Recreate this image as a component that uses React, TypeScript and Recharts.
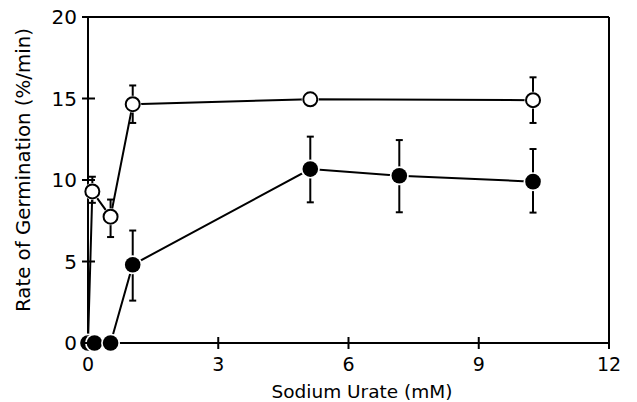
import React from "react";
import {
  ComposedChart,
  Line,
  XAxis,
  YAxis,
  ErrorBar,
  ReferenceLine,
} from "recharts";

// open circles
const openX = [0, 0.1, 0.52, 1.03, 5.12, 10.25];
const openY = [0, 9.3, 7.75, 14.65, 14.95, 14.9];
const openErrLow = [0, 0.7, 1.25, 1.15, 0, 1.4];
const openErrHigh = [0, 0.9, 1.05, 1.15, 0, 1.4];

// filled circles
const filledX = [0, 0.15, 0.52, 1.03, 5.12, 7.17, 10.25];
const filledY = [0, 0, 0, 4.8, 10.67, 10.26, 9.9];
const filledErrLow = [0, 0, 0, 2.2, 2.04, 2.24, 1.9];
const filledErrHigh = [0, 0, 0, 2.1, 1.99, 2.19, 2.0];

const xTicks = [0, 3, 6, 9, 12];
const yTicks = [0, 5, 10, 15, 20];

const FONT = "'DejaVu Sans', sans-serif";

const openData = openX.map((x, i) => ({
  x,
  y: openY[i],
  err: [openErrLow[i], openErrHigh[i]],
}));
const filledData = filledX.map((x, i) => ({
  x,
  y: filledY[i],
  err: [filledErrLow[i], filledErrHigh[i]],
}));

const XTick = (props: any) => {
  const { x, y, payload } = props;
  return (
    <g>
      {payload.value !== 0 && (
        <line x1={x} x2={x} y1={y - 6} y2={y + 6} stroke="#000" strokeWidth={2} />
      )}
      <text x={x} y={y + 28} textAnchor="middle" fontSize={19} fontFamily={FONT} fill="#000">
        {payload.value}
      </text>
    </g>
  );
};

const YTick = (props: any) => {
  const { x, y, payload } = props;
  return (
    <g>
      <line x1={x - 6} x2={x + 7} y1={y} y2={y} stroke="#000" strokeWidth={2} />
      <text x={x - 11} y={y + 7} textAnchor="end" fontSize={20} fontFamily={FONT} fill="#000">
        {payload.value}
      </text>
    </g>
  );
};

const OpenDot = (p: any) => {
  if (p.payload.x === 0) return <g key={p.index} />;
  return (
    <g key={p.index}>
      <circle cx={p.cx} cy={p.cy} r={8.5} fill="#fff" />
      <circle cx={p.cx} cy={p.cy} r={7} fill="#fff" stroke="#000" strokeWidth={2} />
    </g>
  );
};

const FilledDot = (p: any) => (
  <g key={p.index}>
    <circle cx={p.cx} cy={p.cy} r={9.5} fill="#fff" />
    <circle cx={p.cx} cy={p.cy} r={7.8} fill="#000" />
  </g>
);

export default function App() {
  return (
    <div style={{ position: "absolute", left: 0, top: 0, background: "#fff" }}>
      <ComposedChart
        width={637}
        height={402}
        margin={{ top: 17, right: 28, left: 0, bottom: 0 }}
      >
        <XAxis
          type="number"
          dataKey="x"
          domain={[0, 12]}
          ticks={xTicks}
          height={59}
          tickSize={0}
          tickMargin={0}
          tickLine={false}
          axisLine={{ stroke: "#000", strokeWidth: 2 }}
          tick={<XTick />}
        />
        <YAxis
          type="number"
          domain={[0, 20]}
          ticks={yTicks}
          width={88}
          tickSize={0}
          tickMargin={0}
          tickLine={false}
          axisLine={{ stroke: "#000", strokeWidth: 2 }}
          tick={<YTick />}
        />
        <ReferenceLine y={20} stroke="#000" strokeWidth={2} />
        <ReferenceLine x={12} stroke="#000" strokeWidth={2} />
        <Line
          data={openData}
          dataKey="y"
          type="linear"
          stroke="#000"
          strokeWidth={2}
          dot={OpenDot}
          activeDot={false}
          isAnimationActive={false}
        >
          <ErrorBar dataKey="err" width={3.5} stroke="#000" strokeWidth={2} direction="y" />
        </Line>
        <Line
          data={filledData}
          dataKey="y"
          type="linear"
          stroke="#000"
          strokeWidth={2}
          dot={FilledDot}
          activeDot={false}
          isAnimationActive={false}
        >
          <ErrorBar dataKey="err" width={3.5} stroke="#000" strokeWidth={2} direction="y" />
        </Line>
        <text
          x={362}
          y={398}
          textAnchor="middle"
          fontSize={18.5}
          fontFamily={FONT}
          fill="#000"
        >
          Sodium Urate (mM)
        </text>
        <text
          x={23}
          y={170}
          transform="rotate(-90 23 170)"
          textAnchor="middle"
          dominantBaseline="central"
          fontSize={19.8}
          fontFamily={FONT}
          fill="#000"
        >
          Rate of Germination (%/min)
        </text>
      </ComposedChart>
    </div>
  );
}
